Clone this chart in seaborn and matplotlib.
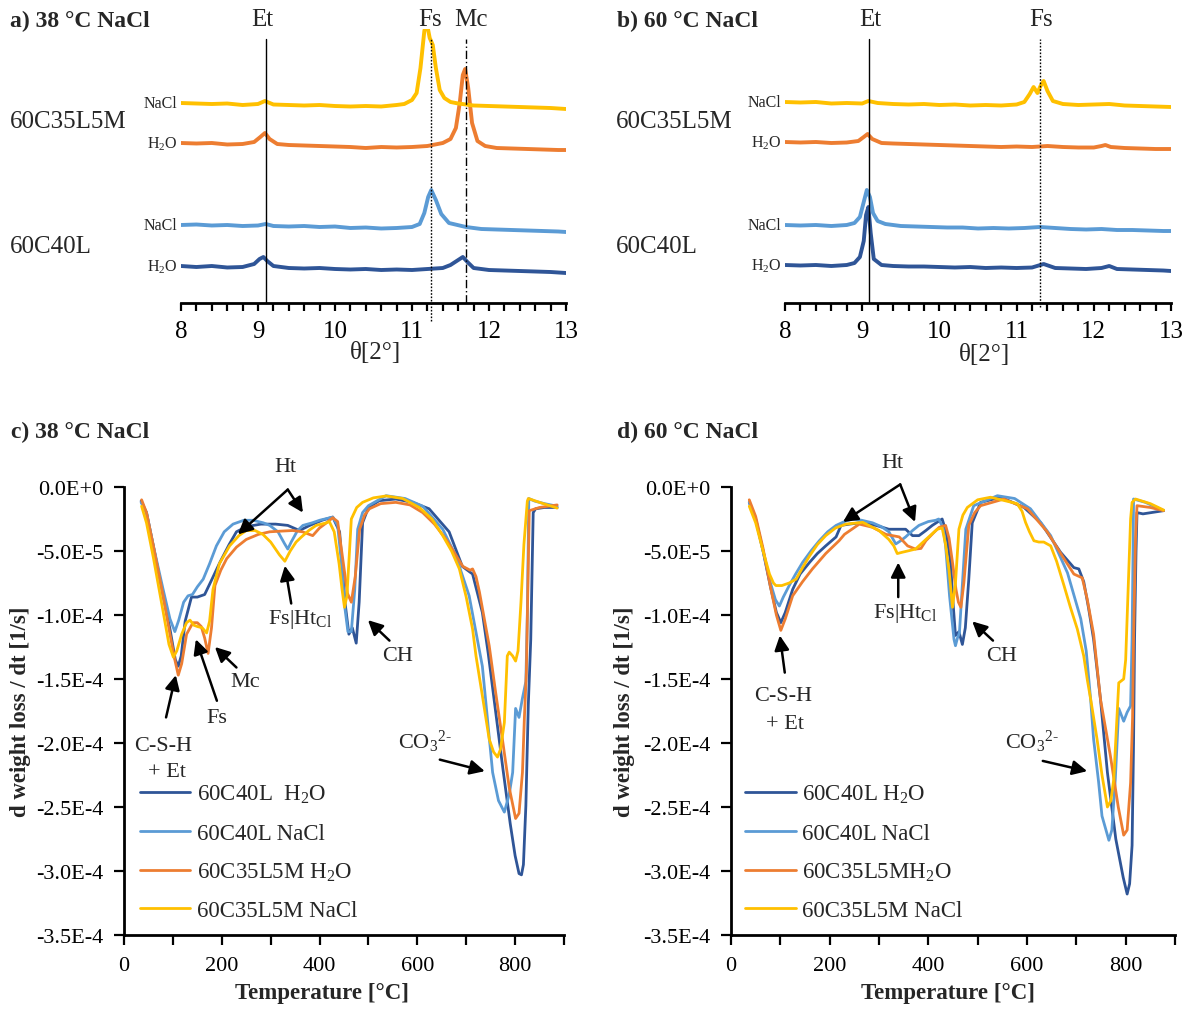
import numpy as np
import pandas as pd
import matplotlib
matplotlib.use("Agg")
import matplotlib.pyplot as plt
from matplotlib.lines import Line2D
from matplotlib.ticker import FixedLocator, FuncFormatter, MultipleLocator
import seaborn as sns

sns.set_theme(style="white")
plt.rcParams["font.family"] = ["Liberation Serif", "DejaVu Serif"]
plt.rcParams["mathtext.fontset"] = "custom"
plt.rcParams["mathtext.rm"] = "Liberation Serif"
plt.rcParams["mathtext.it"] = "Liberation Serif:italic"
plt.rcParams["mathtext.bf"] = "Liberation Serif:bold"

DARK, LIGHT, ORANGE, YELLOW = "#2F5597", "#5B9BD5", "#ED7D31", "#FFC000"
SAMPLES = ["60C40L H2O", "60C40L NaCl", "60C35L5M H2O", "60C35L5M NaCl"]
PALETTE = dict(zip(SAMPLES, [DARK, LIGHT, ORANGE, YELLOW]))

# ---------------- XRD patterns (2theta, intensity a.u.) ----------------
# 38 °C NaCl
a_dark_x = [8.0, 8.2, 8.4, 8.6, 8.8, 8.95, 9.02, 9.07, 9.12, 9.2, 9.4, 9.6, 9.8, 10.0, 10.2, 10.4, 10.6, 10.8,
            11.0, 11.2, 11.4, 11.5, 11.58, 11.66, 11.72, 11.8, 12.0, 12.2, 12.4, 12.6, 12.8, 13.0]
a_dark_y = [37, 36, 37, 35.5, 36, 39, 44, 46, 42, 37, 35, 34.5, 35, 34, 33.5, 34, 33, 33.5,
            33, 34, 35, 38, 42, 46, 41, 35, 33, 32.5, 32, 31.5, 31, 30]
a_light_x = [8.0, 8.2, 8.4, 8.6, 8.8, 9.0, 9.1, 9.2, 9.4, 9.6, 9.8, 10.0, 10.2, 10.4, 10.6, 10.8, 11.0, 11.1,
             11.16, 11.21, 11.25, 11.31, 11.38, 11.48, 11.7, 11.9, 12.1, 12.3, 12.5, 12.7, 12.9, 13.0]
a_light_y = [38, 38.5, 37.5, 38, 37, 37.5, 39, 37, 36.5, 37, 36, 36.5, 35, 35.5, 34.5, 35, 36, 39,
             50, 66, 73, 63, 49, 40, 36, 34, 33.5, 33, 32.5, 32, 31.5, 31]
a_orange_x = [8.0, 8.2, 8.4, 8.6, 8.8, 8.95, 9.03, 9.09, 9.15, 9.25, 9.4, 9.6, 9.8, 10.0, 10.2, 10.4, 10.6, 10.8,
              11.0, 11.2, 11.4, 11.5, 11.57, 11.62, 11.66, 11.69, 11.73, 11.78, 11.85, 11.95, 12.1, 12.3, 12.5,
              12.7, 12.9, 13.0]
a_orange_y = [37, 36.5, 37, 35.5, 36, 38, 43, 47, 41, 36, 35, 34.5, 34, 33.5, 33, 32, 33, 32.5,
              33, 34, 37, 41, 52, 77, 105, 111, 92, 57, 39, 34, 32, 31.5, 31, 30.5, 30, 30]
a_yellow_x = [8.0, 8.2, 8.4, 8.6, 8.8, 9.0, 9.09, 9.2, 9.4, 9.6, 9.8, 10.0, 10.2, 10.4, 10.6, 10.8, 10.9, 11.0,
              11.06, 11.11, 11.16, 11.19, 11.23, 11.27, 11.31, 11.36, 11.42, 11.5, 11.6, 11.8, 12.0, 12.2, 12.4,
              12.6, 12.8, 13.0]
a_yellow_y = [37, 36.5, 36, 36.5, 35, 36, 39, 35.5, 35, 34.5, 35, 34, 33.5, 34, 33.5, 35, 36, 40,
              47, 72, 109, 118, 102, 95, 72, 50, 42, 38, 36.5, 34.5, 34, 33.5, 33, 32.5, 32, 31]

# 60 °C NaCl
b_dark_x = [8.0, 8.2, 8.4, 8.6, 8.8, 8.9, 8.97, 9.02, 9.05, 9.08, 9.11, 9.15, 9.25, 9.4, 9.6, 9.8, 10.0, 10.2,
            10.4, 10.6, 10.8, 11.0, 11.2, 11.35, 11.5, 11.7, 11.9, 12.1, 12.2, 12.3, 12.5, 12.7, 12.9, 13.0]
b_dark_y = [38, 37.5, 38, 37, 38, 40, 46, 62, 88, 96, 70, 44, 38, 37, 36.5, 36.5, 36, 35.5,
            36, 35, 35.5, 35, 35.5, 39, 35, 34.5, 34, 35, 37, 34, 33.5, 33, 32.5, 32]
b_light_x = [8.0, 8.2, 8.4, 8.6, 8.8, 8.9, 8.97, 9.02, 9.06, 9.1, 9.14, 9.2, 9.3, 9.5, 9.7, 9.9, 10.1, 10.3,
             10.5, 10.7, 10.9, 11.1, 11.3, 11.5, 11.7, 11.9, 12.1, 12.3, 12.5, 12.7, 12.9, 13.0]
b_light_y = [38, 37.5, 38, 37, 38, 40, 46, 61, 73, 66, 50, 42, 39, 37, 36.5, 36, 35.5, 35.5,
             34.5, 35, 34.5, 35, 36, 35, 34, 33.5, 34, 33, 33, 32.5, 32, 32]
b_orange_x = [8.0, 8.2, 8.4, 8.6, 8.8, 8.95, 9.02, 9.07, 9.13, 9.25, 9.4, 9.6, 9.8, 10.0, 10.2, 10.4, 10.6,
              10.8, 11.0, 11.2, 11.4, 11.6, 11.8, 12.0, 12.1, 12.15, 12.22, 12.4, 12.6, 12.8, 13.0]
b_orange_y = [38, 37.5, 38, 37, 37.5, 39, 43, 46, 41, 37, 36.5, 36, 35.5, 35, 34.5, 34, 33.5,
              33, 33.5, 33, 34, 33, 32.5, 32.5, 34, 35, 33, 32, 31.5, 31, 31]
b_yellow_x = [8.0, 8.2, 8.4, 8.6, 8.8, 9.0, 9.08, 9.2, 9.4, 9.6, 9.8, 10.0, 10.2, 10.4, 10.6, 10.8, 11.0,
              11.1, 11.17, 11.22, 11.27, 11.31, 11.35, 11.4, 11.47, 11.6, 11.8, 12.0, 12.2, 12.4, 12.6, 12.8, 13.0]
b_yellow_y = [38, 37.5, 38, 36.5, 37, 36.5, 39, 37, 36, 35.5, 36, 35, 35.5, 34.5, 35, 34.5, 35.5,
              38, 46, 53, 47, 54, 59, 49, 39, 36, 35, 35.5, 36, 34.5, 34, 33.5, 33]

# vertical stacking of the diffractograms
XRD_OFFSET = {"60C40L H2O": 0, "60C40L NaCl": 40, "60C35L5M H2O": 123, "60C35L5M NaCl": 163}

# ---------------- DTG curves (temperature °C, dm/dt in 1e-5 1/s) ----------------
c_dark_T = [35, 46, 60, 80, 94, 105, 111, 117, 125, 138, 150, 165, 180, 196, 215, 230, 250, 280, 310, 335, 359,
            380, 405, 427, 441, 452, 460, 467, 475, 481, 488, 500, 522, 556, 590, 624, 665, 692, 713, 733, 745,
            760, 775, 790, 800, 808, 813, 817, 822, 827, 832, 837, 842, 860, 886]
c_dark_v = [-1.1, -2.0, -4.6, -8.5, -11.1, -13.5, -14.0, -13.2, -10.5, -8.6, -8.6, -8.4, -7.2, -5.9, -4.5, -3.5,
            -3.1, -2.9, -2.9, -3.0, -3.4, -3.0, -2.6, -2.35, -3.5, -9.0, -11.5, -11.0, -12.2, -9.0, -2.8, -1.6,
            -1.07, -0.94, -1.2, -1.7, -3.5, -6.2, -6.8, -9.8, -13.0, -17.5, -22.0, -26.3, -28.8, -30.2, -30.3,
            -29.5, -24.9, -17.0, -11.9, -2.0, -1.7, -1.6, -1.6]
c_light_T = [35, 46, 60, 80, 94, 104, 112, 122, 131, 140, 150, 162, 175, 189, 205, 223, 245, 264, 285, 298, 315,
             328, 335, 342, 355, 366, 385, 400, 427, 437, 445, 452, 458, 465, 472, 478, 488, 500, 536, 575, 611,
             652, 679, 706, 733, 754, 766, 778, 788, 795, 801, 808, 815, 822, 825, 828, 840, 860, 886]
c_light_v = [-1.2, -2.0, -4.6, -8.0, -10.3, -11.3, -10.4, -9.0, -8.5, -8.4, -7.8, -7.2, -6.0, -4.6, -3.5, -2.9,
             -2.6, -2.6, -2.8, -3.0, -3.5, -4.4, -4.85, -4.3, -3.4, -3.0, -2.8, -2.6, -2.35, -3.0, -6.0, -9.5,
             -11.3, -11.3, -8.0, -3.3, -2.0, -1.46, -0.68, -0.9, -1.5, -3.3, -5.4, -8.5, -14.0, -22.3, -24.5,
             -25.4, -24.0, -22.3, -17.3, -18.0, -16.5, -15.2, -10.0, -0.9, -1.1, -1.3, -1.5]
c_orange_T = [36, 46, 60, 80, 94, 104, 111, 118, 128, 141, 150, 158, 165, 172, 179, 186, 198, 210, 230, 250, 275,
              298, 320, 345, 365, 386, 400, 414, 427, 437, 447, 457, 465, 473, 482, 492, 502, 525, 556, 585, 611,
              635, 659, 693, 708, 713, 720, 727, 747, 760, 774, 788, 801, 808, 815, 819, 823, 826, 829, 850, 886]
c_orange_v = [-1.0, -2.0, -4.6, -8.5, -11.5, -13.5, -14.7, -13.8, -11.5, -10.6, -10.6, -10.9, -11.8, -13.0,
              -11.0, -7.7, -6.5, -5.6, -4.7, -4.1, -3.7, -3.5, -3.45, -3.4, -3.5, -3.8, -3.2, -2.8, -2.4, -2.7,
              -5.5, -8.3, -9.0, -7.0, -3.3, -2.2, -1.7, -1.3, -1.2, -1.4, -2.0, -2.9, -4.1, -6.2, -6.5, -6.4,
              -7.0, -8.2, -12.4, -16.0, -19.7, -23.5, -25.9, -25.5, -22.3, -18.0, -14.5, -8.0, -1.85, -1.6, -1.4]
c_yellow_T = [36, 46, 60, 78, 92, 101, 108, 118, 128, 135, 143, 150, 160, 169, 175, 182, 195, 216, 235, 250, 268,
              284, 300, 318, 329, 340, 352, 363, 378, 393, 414, 420, 430, 440, 446, 451, 456, 465, 476, 488, 510,
              536, 570, 604, 630, 652, 670, 686, 700, 713, 720, 733, 747, 756, 764, 770, 778, 784, 788, 795, 801,
              806, 812, 818, 825, 827, 850, 886]
c_yellow_v = [-1.5, -2.8, -5.5, -9.3, -12.3, -13.3, -12.8, -11.5, -10.6, -10.4, -10.8, -10.9, -11.0, -11.4,
              -10.5, -8.0, -6.0, -4.6, -3.8, -3.4, -3.4, -3.7, -4.3, -5.3, -5.8, -5.0, -4.3, -3.9, -3.4, -3.0,
              -2.8, -2.7, -3.5, -6.0, -8.0, -9.4, -8.5, -2.5, -1.6, -1.2, -0.85, -0.7, -0.9, -1.6, -2.5, -3.8,
              -5.0, -6.4, -8.6, -11.1, -13.2, -16.3, -19.7, -20.7, -21.1, -20.5, -18.4, -13.2, -12.9, -13.2,
              -13.6, -12.8, -9.0, -4.5, -1.1, -0.9, -1.2, -1.65]

d_dark_T = [37, 50, 65, 80, 92, 101, 110, 125, 140, 159, 175, 192, 213, 223, 240, 260, 294, 320, 354, 368, 381,
            395, 408, 428, 436, 445, 450, 455, 462, 469, 475, 482, 489, 506, 547, 594, 628, 668, 695, 705, 715,
            725, 735, 749, 763, 780, 795, 803, 808, 813, 816, 818, 821, 823, 835, 877]
d_dark_v = [-1.2, -2.5, -5.0, -7.8, -9.8, -10.6, -9.8, -8.0, -6.8, -5.9, -5.2, -4.6, -3.9, -3.0, -2.9, -2.8,
            -3.0, -3.3, -3.3, -3.8, -3.8, -3.4, -3.0, -2.5, -3.5, -5.9, -9.0, -11.6, -11.3, -12.3, -11.0, -7.2,
            -2.8, -1.2, -0.8, -1.6, -2.8, -5.1, -6.3, -6.4, -7.4, -9.5, -11.9, -16.6, -22.3, -27.5, -30.5,
            -31.8, -31.0, -28.0, -20.0, -11.9, -5.0, -2.0, -2.1, -1.85]
d_light_T = [37, 50, 65, 80, 90, 98, 106, 118, 131, 145, 162, 179, 196, 213, 230, 246, 265, 287, 305, 320, 334,
             344, 354, 368, 381, 400, 415, 421, 430, 435, 443, 452, 455, 459, 463, 470, 476, 492, 540, 575, 607,
             648, 682, 709, 720, 729, 735, 745, 752, 766, 772, 779, 786, 796, 803, 810, 813, 815, 816, 840, 877]
d_light_v = [-1.2, -2.5, -5.0, -7.5, -8.8, -9.3, -8.6, -7.7, -6.8, -5.9, -5.0, -4.2, -3.5, -3.0, -2.7, -2.5,
             -2.6, -2.8, -3.1, -3.5, -4.45, -4.2, -3.9, -3.4, -3.0, -2.7, -2.6, -2.5, -3.2, -4.6, -8.5, -11.9,
             -12.4, -11.8, -11.4, -7.0, -3.3, -1.46, -0.68, -0.9, -1.7, -3.8, -6.7, -10.3, -12.8, -16.6, -19.7,
             -23.0, -25.7, -27.6, -26.8, -22.8, -17.3, -18.3, -17.6, -17.1, -11.9, -5.0, -0.94, -1.2, -1.85]
d_orange_T = [37, 50, 65, 80, 92, 101, 110, 125, 145, 165, 192, 219, 230, 245, 260, 287, 314, 341, 358, 374, 385,
              395, 410, 422, 435, 442, 449, 456, 461, 466, 472, 482, 494, 506, 553, 601, 641, 675, 695, 712, 722,
              735, 749, 769, 785, 796, 803, 810, 814, 816, 820, 823, 850, 877]
d_orange_v = [-1.0, -2.3, -4.8, -7.8, -10.0, -11.2, -10.3, -8.5, -7.4, -6.4, -5.2, -4.2, -3.7, -3.3, -2.9, -3.15,
              -3.7, -3.9, -4.6, -4.85, -4.8, -4.2, -3.6, -3.15, -3.0, -4.0, -5.9, -8.0, -9.0, -9.4, -7.5, -3.0,
              -2.0, -1.46, -0.94, -1.7, -3.5, -5.6, -6.8, -7.1, -8.75, -11.5, -16.6, -21.0, -25.0, -27.2, -26.8,
              -23.1, -18.0, -11.9, -4.0, -1.46, -1.6, -1.85]
d_yellow_T = [37, 50, 65, 78, 86, 91, 103, 118, 132, 145, 159, 175, 192, 212, 233, 267, 300, 320, 330, 337, 347,
              358, 374, 395, 418, 428, 435, 442, 449, 455, 462, 470, 479, 500, 526, 580, 590, 597, 605, 614, 624,
              634, 648, 660, 675, 688, 702, 715, 722, 730, 742, 752, 763, 770, 776, 781, 786, 796, 800, 805, 810,
              813, 820, 850, 877]
d_yellow_v = [-1.5, -2.8, -5.0, -6.8, -7.5, -7.7, -7.7, -7.5, -7.2, -6.3, -5.4, -4.5, -3.8, -3.2, -2.9, -2.76,
              -3.4, -4.1, -4.6, -5.2, -5.1, -5.0, -4.85, -4.1, -3.3, -3.2, -4.5, -6.5, -9.4, -7.5, -3.3, -2.2,
              -1.6, -1.0, -0.8, -1.3, -1.9, -2.76, -3.5, -4.2, -4.3, -4.3, -4.6, -5.8, -7.7, -9.4, -11.1, -13.2,
              -15.0, -16.8, -19.7, -22.5, -25.0, -24.5, -22.8, -19.0, -15.3, -15.0, -13.5, -8.0, -2.5, -1.2,
              -0.94, -1.3, -1.8]
DTG_UNIT = 1e-5

LEGEND_C = ["60C40L  H$_2$O", "60C40L NaCl", "60C35L5M H$_2$O", "60C35L5M NaCl"]
LEGEND_D = ["60C40L H$_2$O", "60C40L NaCl", "60C35L5MH$_2$O", "60C35L5M NaCl"]

W, H = 1194, 1012
fig = plt.figure(figsize=(W / 100, H / 100), dpi=100)


def box(left, top, right, bottom):
    return [left / W, 1 - bottom / H, (right - left) / W, (bottom - top) / H]


def fig_text(px, py, s, **kw):
    fig.text(px / W, 1 - py / H, s, **kw)


# ---------------- XRD panels ----------------
def xrd_panel(ax, traces, refs, xlabel_pos):
    frames = []
    for name, (x, y) in traces.items():
        frames.append(pd.DataFrame({"two_theta": x,
                                    "intensity": np.asarray(y, float) + XRD_OFFSET[name],
                                    "sample": name}))
    df = pd.concat(frames, ignore_index=True)
    sns.lineplot(data=df, x="two_theta", y="intensity", hue="sample", hue_order=SAMPLES,
                 palette=PALETTE, estimator=None, sort=False, lw=2.8, legend=False, ax=ax)
    ax.set_xlim(8, 13)
    ax.set_ylim(0, 274)
    for s in ("left", "top", "right"):
        ax.spines[s].set_visible(False)
    ax.spines["bottom"].set_linewidth(2.0)
    ax.spines["bottom"].set_color("black")
    ax.set_yticks([])
    ax.xaxis.set_major_locator(MultipleLocator(1))
    ax.xaxis.set_minor_locator(MultipleLocator(0.2))
    ax.tick_params(axis="x", which="both", direction="out", length=6, width=1.6, colors="black",
                   bottom=True, labelsize=18, pad=6)
    ax.set_ylabel("")
    ax.set_xlabel("θ[2°]", fontsize=18)
    ax.xaxis.label.set_va("center")
    ax.xaxis.set_label_coords(*xlabel_pos)
    # reference lines for the phases
    for xpos, label, ls, y0, lx in refs:
        ax.plot([xpos, xpos], [y0, 264], color="black", lw=1.0, ls=ls, clip_on=False, zorder=5)
        ax.text(lx, 284, label, ha="center", va="center", fontsize=18, clip_on=False)
    # sample labels next to each trace
    for name, short in zip(SAMPLES, ["H$_2$O", "NaCl", "H$_2$O", "NaCl"]):
        y0 = traces[name][1][0] + XRD_OFFSET[name]
        ax.text(7.955, y0, short, ha="right", va="center", fontsize=11.5, clip_on=False)


ax_a = fig.add_axes(box(181, 30, 566, 304))
xrd_panel(ax_a,
          {"60C40L H2O": (a_dark_x, a_dark_y), "60C40L NaCl": (a_light_x, a_light_y),
           "60C35L5M H2O": (a_orange_x, a_orange_y), "60C35L5M NaCl": (a_yellow_x, a_yellow_y)},
          [(9.1, "Et", "-", 0, 9.05),
           (11.25, "Fs", (0, (1.2, 1.2)), -18, 11.24),
           (11.7, "Mc", (0, (6, 2, 1, 2)), 0, 11.76)],
          (0.504, -0.179))

ax_b = fig.add_axes(box(785, 30, 1171, 304))
xrd_panel(ax_b,
          {"60C40L H2O": (b_dark_x, b_dark_y), "60C40L NaCl": (b_light_x, b_light_y),
           "60C35L5M H2O": (b_orange_x, b_orange_y), "60C35L5M NaCl": (b_yellow_x, b_yellow_y)},
          [(9.09, "Et", "-", 0, 9.1),
           (11.3, "Fs", (0, (1.2, 1.2)), -4, 11.31)],
          (0.518, -0.186))

fig_text(10, 21, "a) 38 °C NaCl", fontsize=17, fontweight="bold", va="center")
fig_text(617, 21, "b) 60 °C NaCl", fontsize=17, fontweight="bold", va="center")
for x0 in (10, 616):
    fig_text(x0, 122, "60C35L5M", fontsize=18, va="center")
    fig_text(x0, 247, "60C40L", fontsize=18, va="center")


# ---------------- DTG panels ----------------
def sci_label(v, pos=None):
    if abs(v) < 1e-12:
        return "0.0E+0"
    e = int(np.floor(np.log10(abs(v)) + 1e-9))
    m = v / 10 ** e
    return f"{m:.1f}E{e:+d}"


def dtg_panel(ax, curves, legend_labels, legend_anchor, xlabel_x, ylabel_x, notes):
    frames = []
    for name, (T, v) in curves.items():
        frames.append(pd.DataFrame({"T": T, "dtg": np.asarray(v, float) * DTG_UNIT, "sample": name}))
    df = pd.concat(frames, ignore_index=True)
    sns.lineplot(data=df, x="T", y="dtg", hue="sample", hue_order=SAMPLES, palette=PALETTE,
                 estimator=None, sort=False, lw=2.0, legend=False, ax=ax)
    ax.set_xlim(0, 900)
    ax.set_ylim(-3.5e-4, 0)
    for s in ("top", "right"):
        ax.spines[s].set_visible(False)
    for s in ("left", "bottom"):
        ax.spines[s].set_linewidth(2.0)
        ax.spines[s].set_color("black")
    ax.yaxis.set_major_locator(FixedLocator(np.arange(-3.5e-4, 1e-6, 5e-5)))
    ax.yaxis.set_major_formatter(FuncFormatter(sci_label))
    ax.xaxis.set_major_locator(MultipleLocator(200))
    ax.xaxis.set_minor_locator(MultipleLocator(100))
    ax.tick_params(axis="both", which="both", direction="out", length=7, width=1.6, colors="black",
                   labelsize=16, left=True, bottom=True)
    ax.tick_params(axis="y", pad=8)
    ax.tick_params(axis="x", pad=8)
    ax.set_xlabel("Temperature [°C]", fontsize=16.5, fontweight="bold")
    ax.xaxis.label.set_va("center")
    ax.xaxis.set_label_coords(xlabel_x, -0.129)
    ax.set_ylabel("d weight loss / dt [1/s]", fontsize=16.5, fontweight="bold")
    ax.yaxis.label.set_va("center")
    ax.yaxis.set_label_coords(ylabel_x, 0.5)
    handles = [Line2D([], [], color=PALETTE[s], lw=2.0) for s in SAMPLES]
    ax.legend(handles, legend_labels, loc="upper left", bbox_to_anchor=legend_anchor, frameon=False,
              fontsize=16.5, handlelength=2.2, handletextpad=0.3, labelspacing=0.75, borderpad=0,
              borderaxespad=0)
    arrow = dict(arrowstyle="-|>", color="black", lw=1.8, mutation_scale=22, shrinkA=0, shrinkB=0)
    for text, tpos, arrows in notes:
        if text:
            ax.text(tpos[0], tpos[1] * DTG_UNIT, text, ha="center", va="center", fontsize=16,
                    clip_on=False)
        for tail, head in arrows:
            ax.annotate("", xy=(head[0], head[1] * DTG_UNIT), xytext=(tail[0], tail[1] * DTG_UNIT),
                        arrowprops=arrow, annotation_clip=False)


ax_c = fig.add_axes(box(124, 488, 564, 936))
dtg_panel(ax_c,
          {"60C40L H2O": (c_dark_T, c_dark_v), "60C40L NaCl": (c_light_T, c_light_v),
           "60C35L5M H2O": (c_orange_T, c_orange_v), "60C35L5M NaCl": (c_yellow_T, c_yellow_v)},
          LEGEND_C, (0.036, 0.339), 0.45, -0.236,
          [("Ht", (331, 1.6), [((335, -0.2), (233, -3.7)), ((335, -0.2), (366, -2.0))]),
           ("Fs|Ht$_{\\mathrm{Cl}}$", (360, -10.3), [((342, -9.1), (329, -6.15))]),
           ("CH", (560, -13.2), [((543, -12.0), (499, -10.4))]),
           ("Mc", (247, -15.2), [((230, -14.1), (186, -12.5))]),
           ("Fs", (190, -18.0), [((190, -16.7), (147, -11.9))]),
           ("C-S-H", (80, -20.2), [((86, -18.0), (106, -14.7))]),
           ("+ Et", (88, -22.2), []),
           ("CO$_3$$^{2\\text{-}}$", (616, -19.8), [((646, -21.3), (738, -22.2))])])

ax_d = fig.add_axes(box(731, 488, 1175, 936))
dtg_panel(ax_d,
          {"60C40L H2O": (d_dark_T, d_dark_v), "60C40L NaCl": (d_light_T, d_light_v),
           "60C35L5M H2O": (d_orange_T, d_orange_v), "60C35L5M NaCl": (d_yellow_T, d_yellow_v)},
          LEGEND_D, (0.032, 0.339), 0.489, -0.239,
          [("Ht", (328, 1.95), [((343, 0.2), (227, -2.73)), ((343, 0.2), (373, -2.73))]),
           ("Fs|Ht$_{\\mathrm{Cl}}$", (353, -9.8), [((339, -8.6), (339, -5.9))]),
           ("CH", (549, -13.2), [((531, -12.0), (489, -10.5))]),
           ("C-S-H", (105, -16.3), [((109, -14.5), (99, -11.6))]),
           ("+ Et", (109, -18.5), []),
           ("CO$_3$$^{2\\text{-}}$", (610, -19.8), [((632, -21.4), (722, -22.2))])])

fig_text(11, 432, "c) 38 °C NaCl", fontsize=17, fontweight="bold", va="center")
fig_text(617, 432, "d) 60 °C NaCl", fontsize=17, fontweight="bold", va="center")

fig.savefig("out.png", dpi=100)
